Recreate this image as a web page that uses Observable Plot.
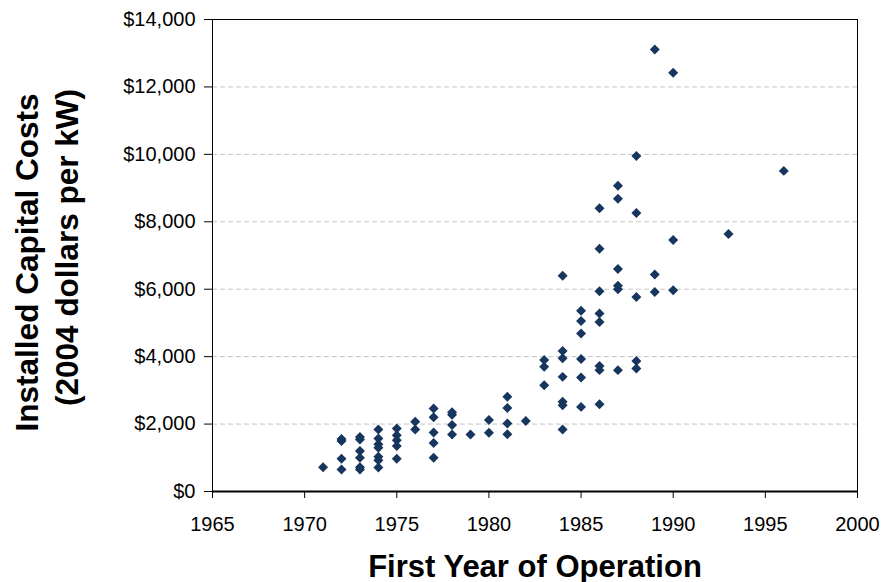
<!DOCTYPE html>
<html><head><meta charset="utf-8">
<script src="https://cdn.jsdelivr.net/npm/d3@7"></script>
<script src="https://cdn.jsdelivr.net/npm/@observablehq/plot@0.6"></script>
<style>body{margin:0;background:#fff}</style>
</head><body><div id="chart"></div>
<script>
const years = [
  1971,
  1972,1972,1972,1972,
  1973,1973,1973,1973,1973,1973,
  1974,1974,1974,1974,1974,1974,1974,
  1975,1975,1975,1975,1975,
  1976,1976,
  1977,1977,1977,1977,1977,
  1978,1978,1978,1978,
  1979,
  1980,1980,
  1981,1981,1981,1981,
  1982,
  1983,1983,1983,
  1984,1984,1984,1984,1984,1984,1984,
  1985,1985,1985,1985,1985,1985,
  1986,1986,1986,1986,1986,1986,1986,1986,
  1987,1987,1987,1987,1987,1987,
  1988,1988,1988,1988,1988,
  1989,1989,1989,
  1990,1990,1990,
  1993,
  1996
];
const costs = [
  720,
  1500,1560,970,650,
  1540,1620,1200,1000,650,720,
  1840,1570,1400,1300,1030,930,710,
  1870,1670,1520,1350,970,
  2070,1840,
  2460,2200,1750,1440,1000,
  2280,2350,1970,1690,
  1690,
  2120,1740,
  2810,2480,2020,1700,
  2090,
  3900,3700,3150,
  6400,4170,3950,3400,2660,2560,1840,
  5360,5060,4690,3930,3380,2510,
  8400,7200,5940,5280,5030,3720,3600,2590,
  9070,8680,6600,6100,6000,3600,
  9950,8260,5770,3870,3650,
  13110,6440,5920,
  12420,7460,5970,
  7640,
  9510
];
const xTicks = [1965,1970,1975,1980,1985,1990,1995,2000];
const yTicks = [0,2000,4000,6000,8000,10000,12000,14000];
const gridValues = [2000,4000,6000,8000,10000,12000];
const xTitle = "First Year of Operation";
const yTitle1 = "Installed Capital Costs";
const yTitle2 = "(2004 dollars per kW)";

const data = years.map((y, i) => ({year: y, cost: costs[i]}));
const fmt = d3.format(",");

const chart = Plot.plot({
  width: 881, height: 582,
  marginLeft: 212, marginRight: 24, marginTop: 19, marginBottom: 91,
  style: {fontFamily: "'Liberation Sans', Arial, sans-serif", background: "#fff", color: "#000"},
  x: {domain: [1965, 2000]},
  y: {domain: [0, 14000]},
  marks: [
    Plot.ruleY(gridValues, {stroke: "#c4c4c4", strokeDasharray: "5,3"}),
    Plot.frame({stroke: "#000"}),
    Plot.axisX(xTicks, {tickSize: 7, tickPadding: 18, fontSize: 20, tickFormat: d => String(d), label: null, stroke: "#000"}),
    Plot.axisY(yTicks, {tickSize: 8, tickPadding: 9, fontSize: 20, tickFormat: d => "$" + fmt(d), label: null, stroke: "#000"}),
    Plot.ruleY([0], {stroke: "#000", strokeWidth: 2}),
    Plot.dot(data, {x: "year", y: "cost", symbol: "diamond2", r: 4.5, fill: "#17365d", stroke: null}),
    Plot.text([xTitle], {text: d => d, frameAnchor: "bottom", textAnchor: "middle", dy: 85, lineAnchor: "bottom", fontSize: 31, fontWeight: "bold", fill: "#000"}),
    Plot.text([yTitle1], {text: d => d, frameAnchor: "left", textAnchor: "middle", dx: -175, dy: 7, rotate: -90, lineAnchor: "bottom", fontSize: 31.5, fontWeight: "bold", fill: "#000"}),
    Plot.text([yTitle2], {text: d => d, frameAnchor: "left", textAnchor: "middle", dx: -135, dy: -8, rotate: -90, lineAnchor: "bottom", fontSize: 31.5, fontWeight: "bold", fill: "#000"})
  ]
});
document.getElementById("chart").appendChild(chart);
</script>
</body></html>
